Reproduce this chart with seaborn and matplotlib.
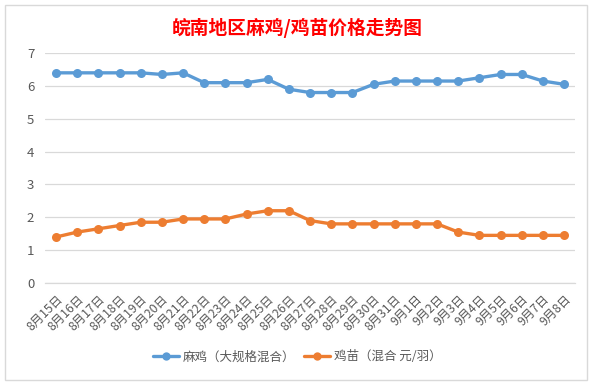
import matplotlib
matplotlib.use("Agg")
import matplotlib.pyplot as plt
import seaborn as sns
import pandas as pd
import numpy as np
from matplotlib.patches import Rectangle

#------------------------------------------------------------------------------
# data
#------------------------------------------------------------------------------
dates = ['8月15日', '8月16日', '8月17日', '8月18日', '8月19日', '8月20日',
         '8月21日', '8月22日', '8月23日', '8月24日', '8月25日', '8月26日',
         '8月27日', '8月28日', '8月29日', '8月30日', '8月31日', '9月1日',
         '9月2日', '9月3日', '9月4日', '9月5日', '9月6日', '9月7日', '9月8日']

maji = [6.4, 6.4, 6.4, 6.4, 6.4, 6.35, 6.4, 6.1, 6.1, 6.1, 6.2, 5.9,
        5.8, 5.8, 5.8, 6.05, 6.15, 6.15, 6.15, 6.15, 6.25, 6.35, 6.35, 6.15, 6.05]

jimiao = [1.4, 1.55, 1.65, 1.75, 1.85, 1.85, 1.95, 1.95, 1.95, 2.1, 2.2, 2.2,
          1.9, 1.8, 1.8, 1.8, 1.8, 1.8, 1.8, 1.55, 1.45, 1.45, 1.45, 1.45, 1.45]

series_names = ['麻鸡（大规格混合）', '鸡苗（混合 元/羽）']
colors = ['#5B9BD5', '#ED7D31']
title = '皖南地区麻鸡/鸡苗价格走势图'

#------------------------------------------------------------------------------
sns.set_style("white")
plt.rcParams['font.family'] = ['Noto Sans CJK SC', 'DejaVu Sans']

df = pd.DataFrame({'date': dates * 2,
                   'price': maji + jimiao,
                   'series': [series_names[0]] * len(dates) + [series_names[1]] * len(dates)})
df['pos'] = list(range(len(dates))) * 2

fig = plt.figure(figsize=(5.94, 3.85), dpi=100)
ax = fig.add_axes([0.0765, 0.265, 0.891, 0.597])

sns.lineplot(data=df, x='pos', y='price', hue='series', palette=colors,
             marker='o', markersize=6.5, markeredgewidth=0, linewidth=2.4,
             sort=False, legend=False, ax=ax)

ax.set_xlim(-0.5, len(dates) - 0.5)
ax.set_ylim(0, 7)
ax.set_yticks(range(0, 8))
ax.yaxis.grid(True, color='#D9D9D9', linewidth=0.9)
ax.set_axisbelow(True)

ax.set_xticks(range(len(dates)))
ax.set_xticklabels(dates, rotation=45, ha='right', rotation_mode='anchor')
ax.set_xticks(np.arange(-0.5, len(dates), 1.0), minor=True)
ax.tick_params(axis='x', which='major', length=0, pad=7, labelsize=8.8, labelcolor='#595959')
ax.tick_params(axis='x', which='minor', length=4, color='#D9D9D9', width=0.9)
ax.tick_params(axis='y', length=0, pad=8, labelsize=9.5, labelcolor='#595959')
ax.set_xlabel('')
ax.set_ylabel('')

for s in ['top', 'right', 'left']:
    ax.spines[s].set_visible(False)
ax.spines['bottom'].set_color('#D9D9D9')
ax.spines['bottom'].set_linewidth(0.9)

fig.text(0.5, 0.928, title, ha='center', va='center', color='#FF0000',
         fontsize=13.5, fontweight='bold')

handles = [plt.Line2D([], [], color=c, marker='o', markersize=6, linewidth=2.4,
                      markeredgewidth=0) for c in colors]
fig.legend(handles, series_names, loc='center', bbox_to_anchor=(0.5, 0.073),
           ncol=2, frameon=False, fontsize=9, labelcolor='#595959',
           handlelength=2.1, columnspacing=0.7, handletextpad=0.3)

fig.patches.append(Rectangle((0.008, 0.012), 0.98, 0.975, transform=fig.transFigure,
                             fill=False, edgecolor='#D9D9D9', linewidth=1.0))

fig.savefig('out.png', dpi=100)
